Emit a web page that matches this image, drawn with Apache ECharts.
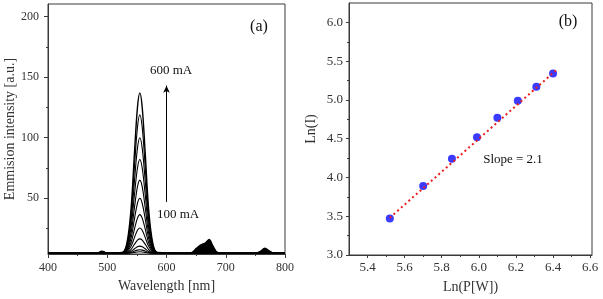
<!DOCTYPE html>
<html>
<head>
<meta charset="utf-8">
<script src="https://cdn.jsdelivr.net/npm/echarts@6/dist/echarts.min.js"></script>
<style>
  html, body { margin: 0; padding: 0; background: #fff; }
  #main { width: 603px; height: 299px; }
</style>
</head>
<body>
<div id="main"></div>
<script>
// (a) spectra, wavelength in nm
const wavelength = [400, 482, 491, 500, 525, 533, 540, 546, 551, 555, 559, 564, 570, 577, 585, 630, 642, 650, 658, 666, 672, 678, 686, 700, 750, 758, 766, 774, 782, 800];
const spec600 = [4.5, 4.5, 6.3, 4.7, 5.2, 12.5, 40.3, 88.0, 125.1, 137, 125.1, 88.0, 40.3, 12.5, 5.2, 4.5, 5.0, 8.5, 11.5, 13.3, 16.0, 11.0, 5.3, 4.5, 4.5, 6.0, 8.7, 6.3, 4.7, 4.5];
const spec2 = [4.5, 4.5, 6.1, 4.7, 5.1, 11.4, 35.4, 76.6, 108.7, 119, 108.7, 76.6, 35.4, 11.4, 5.1, 4.5, 4.9, 8.0, 10.6, 12.1, 14.4, 10.1, 5.2, 4.5, 4.5, 5.8, 8.1, 6.1, 4.7, 4.5];
const spec3 = [4.5, 4.5, 5.8, 4.6, 5.0, 10.2, 30.3, 64.7, 91.4, 100, 91.4, 64.7, 30.3, 10.2, 5.0, 4.5, 4.9, 7.4, 9.6, 10.8, 12.8, 9.2, 5.1, 4.5, 4.5, 5.6, 7.5, 5.8, 4.6, 4.5];
const spec4 = [4.5, 4.5, 5.6, 4.6, 4.9, 9.2, 25.4, 53.3, 75.0, 82, 75.0, 53.3, 25.4, 9.2, 4.9, 4.5, 4.8, 6.8, 8.6, 9.7, 11.2, 8.3, 5.0, 4.5, 4.5, 5.4, 7.0, 5.6, 4.6, 4.5];
const spec5 = [4.5, 4.5, 5.3, 4.6, 4.8, 8.1, 20.8, 42.6, 59.6, 65, 59.6, 42.6, 20.8, 8.1, 4.8, 4.5, 4.7, 6.3, 7.7, 8.5, 9.8, 7.5, 4.9, 4.5, 4.5, 5.2, 6.4, 5.3, 4.6, 4.5];
const spec6 = [4.5, 4.5, 5.1, 4.6, 4.7, 7.2, 16.8, 33.2, 45.9, 50, 45.9, 33.2, 16.8, 7.2, 4.7, 4.5, 4.7, 5.9, 6.9, 7.5, 8.4, 6.7, 4.8, 4.5, 4.5, 5.0, 5.9, 5.1, 4.5, 4.5];
const spec7 = [4.5, 4.5, 4.9, 4.5, 4.7, 6.4, 13.1, 24.7, 33.6, 36.5, 33.6, 24.7, 13.1, 6.4, 4.7, 4.5, 4.6, 5.5, 6.2, 6.6, 7.3, 6.1, 4.7, 4.5, 4.5, 4.9, 5.5, 4.9, 4.5, 4.5];
const spec8 = [4.5, 4.5, 4.8, 4.5, 4.6, 5.8, 10.2, 17.7, 23.6, 25.5, 23.6, 17.7, 10.2, 5.8, 4.6, 4.5, 4.6, 5.1, 5.6, 5.9, 6.3, 5.5, 4.6, 4.5, 4.5, 4.7, 5.2, 4.8, 4.5, 4.5];
const spec9 = [4.5, 4.5, 4.7, 4.5, 4.6, 5.2, 7.7, 12.1, 15.4, 16.5, 15.4, 12.1, 7.7, 5.2, 4.6, 4.5, 4.5, 4.9, 5.1, 5.3, 5.5, 5.1, 4.6, 4.5, 4.5, 4.6, 4.9, 4.7, 4.5, 4.5];
const spec10 = [4.5, 4.5, 4.6, 4.5, 4.5, 4.9, 6.1, 8.3, 10.0, 10.5, 10.0, 8.3, 6.1, 4.9, 4.5, 4.5, 4.5, 4.7, 4.8, 4.9, 5.0, 4.8, 4.5, 4.5, 4.5, 4.5, 4.7, 4.6, 4.5, 4.5];
const spec11 = [4.5, 4.5, 4.5, 4.5, 4.5, 4.7, 5.3, 6.4, 7.2, 7.5, 7.2, 6.4, 5.3, 4.7, 4.5, 4.5, 4.5, 4.6, 4.6, 4.7, 4.7, 4.6, 4.5, 4.5, 4.5, 4.5, 4.6, 4.5, 4.5, 4.5];
const spec100 = [4.5, 4.5, 4.5, 4.5, 4.5, 4.6, 4.9, 5.3, 5.7, 5.8, 5.7, 5.3, 4.9, 4.6, 4.5, 4.5, 4.5, 4.5, 4.5, 4.6, 4.6, 4.5, 4.5, 4.5, 4.5, 4.5, 4.5, 4.5, 4.5, 4.5];
const spectra = [spec600, spec2, spec3, spec4, spec5, spec6, spec7, spec8, spec9, spec10, spec11, spec100];
const specTicks = [50, 100, 150, 200];
const specMinor = [25, 75, 125, 175];
const arrowFrom = [600, 47];
const arrowTo = [600, 143];

// (b) log-log fit
const lnP = [5.52, 5.70, 5.855, 5.99, 6.10, 6.21, 6.31, 6.40];
const lnI = [3.47, 3.89, 4.24, 4.52, 4.77, 4.99, 5.17, 5.34];
const fitX = [5.52, 6.42];
const fitY = [3.48, 5.39];
const lnPTicks = [5.4, 5.6, 5.8, 6.0, 6.2, 6.4, 6.6];
const lnPMinor = [5.5, 5.7, 5.9, 6.1, 6.3, 6.5];
const lnITicks = [3.0, 3.5, 4.0, 4.5, 5.0, 5.5, 6.0];
const lnIMinor = [3.25, 3.75, 4.25, 4.75, 5.25, 5.75];

const FONT = 'Liberation Serif';
const axisColor = '#3a3a3a';
const txt = '#333';

const chart = echarts.init(document.getElementById('main'));

function mainAxis(extra) {
  return Object.assign({
    axisLine: { show: true, onZero: false, lineStyle: { color: axisColor, width: 1 } },
    axisTick: { show: true, inside: false, length: 4, lineStyle: { color: axisColor } },
    splitLine: { show: false },
    nameLocation: 'middle',
    nameTextStyle: { fontFamily: FONT, fontSize: 14, color: txt },
    axisLabel: { fontFamily: FONT, color: txt }
  }, extra);
}
function minorAxis(extra, values) {
  return Object.assign({
    axisLine: { show: false },
    axisLabel: { show: false },
    splitLine: { show: false },
    axisTick: { show: true, inside: false, length: 2, customValues: values, lineStyle: { color: axisColor } }
  }, extra);
}

const series = spectra.map((d, i) => ({
  type: 'line',
  xAxisIndex: 0, yAxisIndex: 0,
  data: wavelength.map((w, k) => [w, d[k]]),
  smooth: 0.35,
  showSymbol: false,
  lineStyle: { color: '#000', width: i === 0 ? 1.4 : 1.1 },
  z: 3
}));

// dense overlap of weak bands: drawn as filled envelope of the strongest curve
[[480, 505], [630, 700], [745, 790]].forEach(r => {
  series.push({
    type: 'line',
    xAxisIndex: 0, yAxisIndex: 0,
    data: wavelength.map((w, k) => [w, spec600[k]]).filter(p => p[0] >= r[0] && p[0] <= r[1]),
    smooth: 0.35,
    showSymbol: false,
    lineStyle: { width: 0 },
    areaStyle: { color: '#000', opacity: 1, origin: 'start' },
    z: 2
  });
});

// arrow 100 mA -> 600 mA
series.push({
  type: 'line', xAxisIndex: 0, yAxisIndex: 0, data: [],
  markLine: {
    silent: true, animation: false,
    symbol: ['none', 'arrow'], symbolSize: [5, 7],
    label: { show: false },
    lineStyle: { color: '#000', width: 1, type: 'solid' },
    data: [[{ coord: arrowFrom }, { coord: arrowTo }]]
  }
});

series.push({
  type: 'scatter',
  xAxisIndex: 2, yAxisIndex: 2,
  data: lnP.map((x, i) => [x, lnI[i]]),
  symbolSize: 8,
  itemStyle: { color: '#0a0aff' },
  z: 3
});
series.push({
  type: 'line',
  xAxisIndex: 2, yAxisIndex: 2,
  data: fitX.map((x, i) => [x, fitY[i]]),
  showSymbol: false,
  lineStyle: { color: '#ee1c1c', width: 2, type: [2, 3] },
  z: 4
});

chart.setOption({
  animation: false,
  backgroundColor: '#fff',
  grid: [
    { left: 48, right: 318, top: 4, bottom: 45, show: true, borderColor: axisColor, borderWidth: 1 },
    { left: 349, right: 11, top: 3, bottom: 44, show: true, borderColor: axisColor, borderWidth: 1 }
  ],
  xAxis: [
    mainAxis({
      gridIndex: 0, type: 'value', min: 400, max: 800, interval: 100,
      name: 'Wavelength [nm]', nameGap: 24,
      minorTick: { show: true, splitNumber: 2, length: 2, lineStyle: { color: axisColor } },
      axisLabel: { fontFamily: FONT, color: txt, fontSize: 12, margin: 8 }
    }),
    minorAxis({ gridIndex: 0, type: 'value', min: 400, max: 800, position: 'bottom' }, []),
    mainAxis({
      gridIndex: 1, type: 'value', min: 5.3, max: 6.61,
      name: 'Ln(P[W])', nameGap: 25,
      axisTick: { show: true, length: 3, customValues: lnPTicks, lineStyle: { color: axisColor } },
      axisLabel: { fontFamily: FONT, color: txt, fontSize: 13, margin: 6, customValues: lnPTicks, formatter: v => v.toFixed(1) }
    }),
    minorAxis({ gridIndex: 1, type: 'value', min: 5.3, max: 6.61, position: 'bottom' }, lnPMinor)
  ],
  yAxis: [
    mainAxis({
      gridIndex: 0, type: 'value', min: 4, max: 210.4,
      name: 'Emmision intensity [a.u.]', nameGap: 29,
      axisTick: { show: true, length: 4, customValues: specTicks, lineStyle: { color: axisColor } },
      axisLabel: { fontFamily: FONT, color: txt, fontSize: 12, margin: 9, customValues: specTicks }
    }),
    minorAxis({ gridIndex: 0, type: 'value', min: 4, max: 210.4, position: 'left' }, specMinor),
    mainAxis({
      gridIndex: 1, type: 'value', min: 3.0, max: 6.25,
      name: 'Ln(I)', nameGap: 31,
      axisTick: { show: true, length: 3, customValues: lnITicks, lineStyle: { color: axisColor } },
      axisLabel: { fontFamily: FONT, color: txt, fontSize: 13, margin: 6, customValues: lnITicks, formatter: v => v.toFixed(1) }
    }),
    minorAxis({ gridIndex: 1, type: 'value', min: 3.0, max: 6.25, position: 'left' }, lnIMinor)
  ],
  graphic: [
    { type: 'text', x: 259, y: 27, style: { text: '(a)', font: '16px ' + FONT, fill: '#111', align: 'center', verticalAlign: 'middle' } },
    { type: 'text', x: 568, y: 22, style: { text: '(b)', font: '16px ' + FONT, fill: '#111', align: 'center', verticalAlign: 'middle' } },
    { type: 'text', x: 171, y: 71, style: { text: '600 mA', font: '13px ' + FONT, fill: '#111', align: 'center', verticalAlign: 'middle' } },
    { type: 'text', x: 178, y: 215, style: { text: '100 mA', font: '13px ' + FONT, fill: '#111', align: 'center', verticalAlign: 'middle' } },
    { type: 'text', x: 513, y: 160, style: { text: 'Slope = 2.1', font: '13px ' + FONT, fill: '#111', align: 'center', verticalAlign: 'middle' } }
  ],
  series: series
});
</script>
</body>
</html>
